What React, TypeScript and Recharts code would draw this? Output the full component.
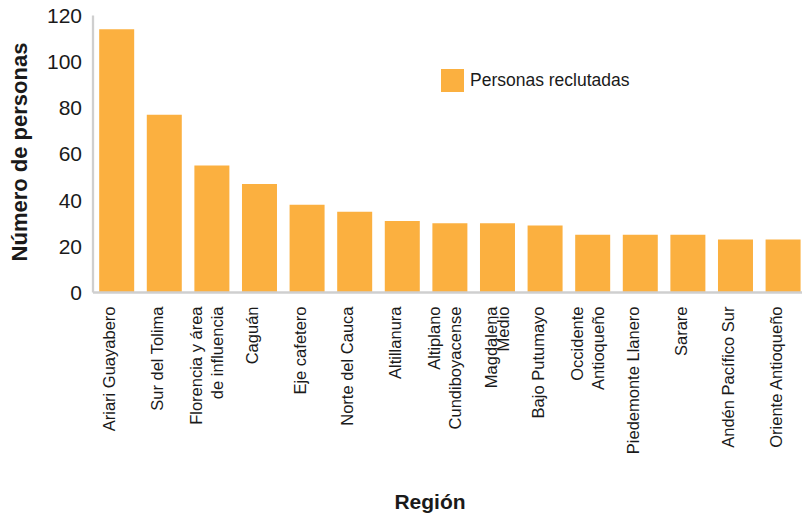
import { BarChart, Bar, XAxis, YAxis, Legend, Label } from "recharts";

const REGIONS = [
  "Ariari Guayabero",
  "Sur del Tolima",
  "Florencia y área\nde influencia",
  "Caguán",
  "Eje cafetero",
  "Norte del Cauca",
  "Altillanura",
  "Altiplano\nCundiboyacense",
  "Magdalena\nMedio",
  "Bajo Putumayo",
  "Occidente\nAntioqueño",
  "Piedemonte Llanero",
  "Sarare",
  "Andén Pacífico Sur",
  "Oriente Antioqueño",
];

const RECLUTADAS = [114, 77, 55, 47, 38, 35, 31, 30, 30, 29, 25, 25, 25, 23, 23];

const Y_TICKS = [0, 20, 40, 60, 80, 100, 120];

const SERIES_NAME = "Personas reclutadas";
const Y_TITLE = "Número de personas";
const X_TITLE = "Región";

const data = REGIONS.map((region, i) => ({ region, value: RECLUTADAS[i] }));

const FONT = '"Liberation Sans", Arial, sans-serif';
const BAR_COLOR = "#FBB040";
const AXIS_COLOR = "#CFCFCF";
const TEXT_COLOR = "#1a1a1a";

// labels whose two lines sit almost on top of each other in the original
const TIGHT = new Set(["Magdalena\nMedio"]);

function RegionTick(props: any) {
  const x = Number(props.x);
  const y = Number(props.y);
  const label: string = props.payload.value;
  const lines = label.split("\n");
  const gap = TIGHT.has(label) ? 11.5 : 21;
  const last = lines.length > 1 ? 11 : -1.5;
  return (
    <g>
      {lines.map((line, i) => {
        const bx = x + last - (lines.length - 1 - i) * gap;
        return (
          <text
            key={i}
            x={0}
            y={0}
            transform={`translate(${bx},${y}) rotate(-90)`}
            textAnchor="end"
            fontFamily={FONT}
            fontSize={16.5}
            fill={TEXT_COLOR}
          >
            {line}
          </text>
        );
      })}
    </g>
  );
}

function LegendBox() {
  return (
    <div
      style={{
        display: "flex",
        alignItems: "center",
        fontFamily: FONT,
        fontSize: 17.5,
        color: TEXT_COLOR,
      }}
    >
      <span
        style={{
          display: "inline-block",
          width: 23,
          height: 23,
          background: BAR_COLOR,
          marginRight: 6,
        }}
      />
      <span>{SERIES_NAME}</span>
    </div>
  );
}

export default function App() {
  return (
    <div style={{ width: 802, height: 519, overflow: "hidden", position: "relative" }}>
      <style>{"body{margin:0}"}</style>
      <BarChart
        width={810}
        height={519}
        data={data}
        margin={{ top: 15.5, right: 3, bottom: 0, left: 0 }}
        barCategoryGap="13%"
      >
        <XAxis
          dataKey="region"
          interval={0}
          height={226.5}
          tick={<RegionTick />}
          tickLine={false}
          tickSize={0}
          tickMargin={14}
          axisLine={{ stroke: AXIS_COLOR, strokeWidth: 2.3 }}
        >
          <Label
            content={() => (
              <text
                x={430}
                y={509}
                textAnchor="middle"
                fontFamily={FONT}
                fontWeight="bold"
                fontSize={21}
                fill={TEXT_COLOR}
              >
                {X_TITLE}
              </text>
            )}
          />
        </XAxis>
        <YAxis
          width={93}
          domain={[0, 120]}
          ticks={Y_TICKS}
          interval={0}
          tickLine={false}
          tickSize={0}
          tickMargin={11}
          tick={{ fontFamily: FONT, fontSize: 21, fill: TEXT_COLOR }}
          axisLine={{ stroke: AXIS_COLOR, strokeWidth: 2.3 }}
        >
          <Label
            content={() => (
              <text
                transform="translate(27,152) rotate(-90)"
                x={0}
                y={0}
                textAnchor="middle"
                fontFamily={FONT}
                fontWeight="bold"
                fontSize={22}
                fill={TEXT_COLOR}
              >
                {Y_TITLE}
              </text>
            )}
          />
        </YAxis>
        <Legend
          verticalAlign="middle"
          align="center"
          layout="horizontal"
          content={() => <LegendBox />}
          wrapperStyle={{ top: 69, left: 441, width: "auto", height: 23 }}
        />
        <Bar dataKey="value" name={SERIES_NAME} fill={BAR_COLOR} isAnimationActive={false} />
      </BarChart>
    </div>
  );
}
